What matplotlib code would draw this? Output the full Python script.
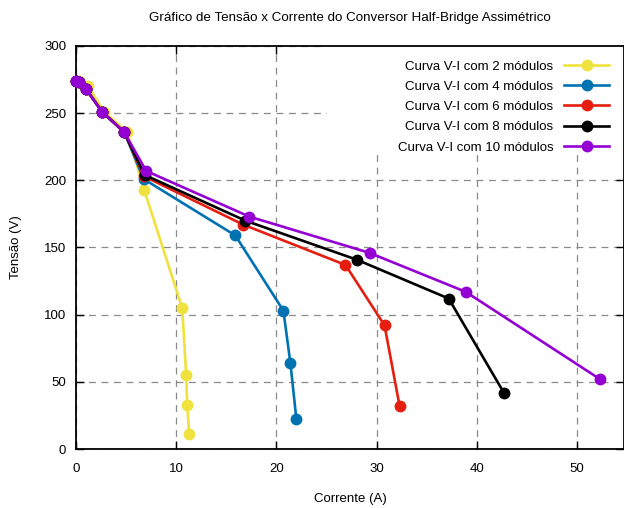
import numpy as np
import matplotlib.pyplot as plt
from matplotlib.patches import Rectangle


# =========================
# 1. Data
# =========================
i_2 = [0.3, 1.2, 2.8, 5.1, 6.8, 10.6, 11.0, 11.1, 11.3]
v_2 = [274, 270, 251, 236, 193, 105, 55, 33, 11]

i_4 = [0.0, 0.3, 1.0, 2.6, 4.8, 6.75, 15.9, 20.7, 21.4, 22.0]
v_4 = [274, 273, 268, 251, 236, 201, 159, 103, 64, 22]

i_6 = [0.0, 0.3, 1.0, 2.6, 4.8, 6.8, 16.7, 26.9, 30.8, 32.3]
v_6 = [274, 273, 268, 251, 236, 203, 167, 137, 92, 32]

i_8 = [0.0, 0.3, 1.0, 2.6, 4.8, 6.85, 16.9, 28.0, 37.2, 42.7]
v_8 = [274, 273, 268, 251, 236, 204, 170, 141, 112, 42]

i_10 = [0.0, 0.3, 1.0, 2.6, 4.8, 7.0, 17.3, 29.3, 38.9, 52.3]
v_10 = [274, 273, 268, 251, 236, 207, 173, 146, 117, 52]

series = [
    (i_2, v_2, "#efe23e", "Curva V-I com 2 módulos"),
    (i_4, v_4, "#0072b2", "Curva V-I com 4 módulos"),
    (i_6, v_6, "#e51e10", "Curva V-I com 6 módulos"),
    (i_8, v_8, "#000000", "Curva V-I com 8 módulos"),
    (i_10, v_10, "#9400d3", "Curva V-I com 10 módulos"),
]

x_ticks = [0, 10, 20, 30, 40, 50]
y_ticks = [0, 50, 100, 150, 200, 250, 300]


# =========================
# 2. Plot settings
# =========================
plt.rcParams["font.family"] = ["Liberation Sans", "DejaVu Sans"]

fig = plt.figure(figsize=(6.24, 5.08), dpi=100)
ax = fig.add_axes([76 / 624, 59 / 508, 548 / 624, 403 / 508])
ax.set_axisbelow(True)


# =========================
# 3. Lines
# =========================
for x, y, color, label in series:
    ax.plot(
        x, y, color=color, linewidth=1.9,
        marker="o", markersize=7.5,
        markerfacecolor=color, markeredgecolor=color,
        label=label, zorder=3, clip_on=False
    )


# =========================
# 4. Axes, grid, labels
# =========================
ax.set_xlim(0, 54.7)
ax.set_ylim(0, 300)
ax.set_xticks(x_ticks)
ax.set_yticks(y_ticks)

ax.grid(True, color="#8a8a8a", linestyle=(0, (5.5, 4.5)), linewidth=0.9)

ax.tick_params(axis="both", direction="in", length=6, width=1.0,
               top=True, right=True, labelsize=9.5)
ax.tick_params(axis="x", pad=10)
ax.tick_params(axis="y", pad=7)

for spine in ax.spines.values():
    spine.set_linewidth(1.3)

ax.set_title("Gráfico de Tensão x Corrente do Conversor Half-Bridge Assimétrico",
             fontsize=9.6, pad=18)
ax.set_xlabel("Corrente (A)", fontsize=9.5, labelpad=13)
ax.set_ylabel("Tensão (V)", fontsize=9.5, labelpad=16)

# opaque key area hiding the grid behind the legend
ax.add_patch(Rectangle((0.458, 0.734), 0.542, 0.266, transform=ax.transAxes,
                       facecolor="white", edgecolor="none", zorder=1))

ax.legend(loc="upper right", bbox_to_anchor=(0.9726, 0.9646),
          frameon=False, markerfirst=False, fontsize=9.5,
          handlelength=3.4, handletextpad=0.8, labelspacing=0.61,
          borderpad=0, borderaxespad=0)


# =========================
# 5. Save
# =========================
fig.savefig("out.png", dpi=100)
